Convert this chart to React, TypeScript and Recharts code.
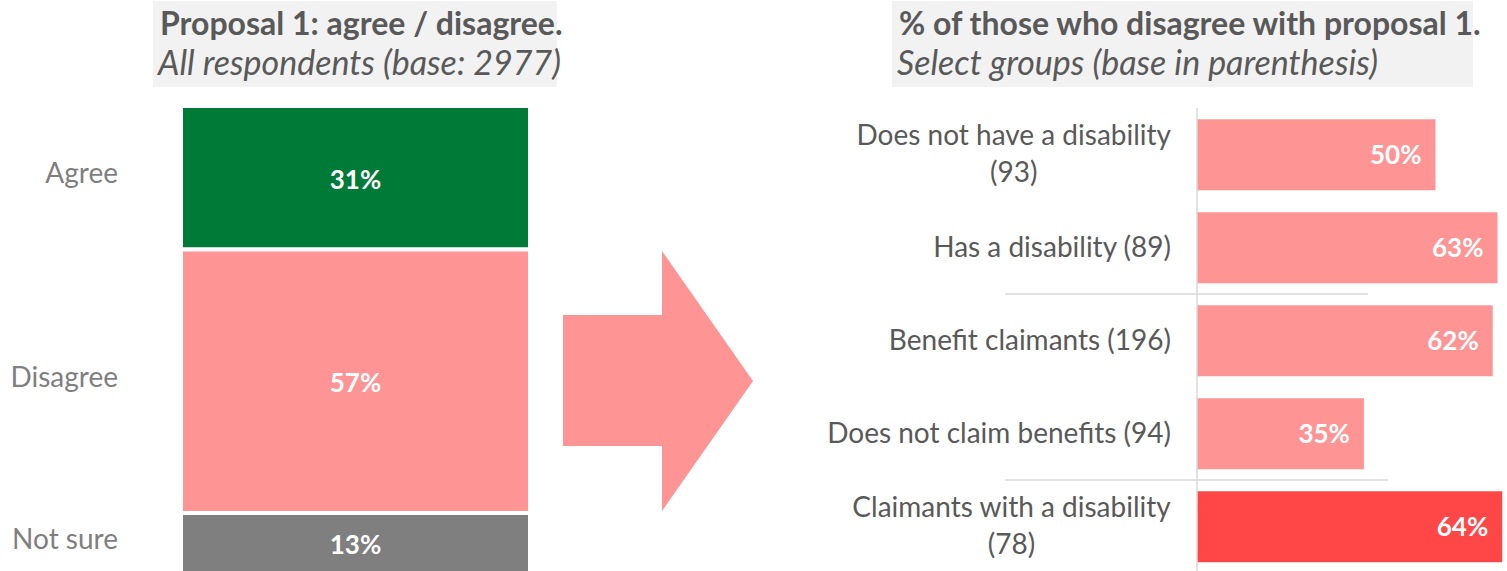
import { BarChart, Bar, XAxis, YAxis, LabelList, Cell } from 'recharts';

// Left panel: all respondents
const overallKeys = ['agree', 'disagree', 'notSure'];
const overallLabels = ['Agree', 'Disagree', 'Not sure'];
const overallValues = [31, 57, 13];
const overallColors = ['#007A37', '#FF9494', '#7F7F7F'];

// Right panel: share who disagree, by group
const groupLabels = [
  'Does not have a disability (93)',
  'Has a disability (89)',
  'Benefit claimants (196)',
  'Does not claim benefits (94)',
  'Claimants with a disability (78)',
];
const groupValues = [50, 63, 62, 35, 64];
const groupColors = ['#FF9494', '#FF9494', '#FF9494', '#FF9494', '#FF4747'];
// separator lines drawn under these rows
const groupBreaks = [1, 3];

const FONT = 'Lato, "Open Sans", sans-serif';
const LABEL_SIZE = 28;
const VALUE_SIZE = 26;
const RIGHT_TOP = 108;
const RIGHT_PLOT_H = 465;
const BAND = RIGHT_PLOT_H / groupLabels.length;

const overallRow: Record<string, number | string> = { name: 'All respondents' };
overallKeys.forEach((k, i) => {
  overallRow[k] = overallValues[i];
});
const overallData = [overallRow];

const groupData = groupLabels.map((name, i) => ({ name, value: groupValues[i] }));

let measureCtx: CanvasRenderingContext2D | null = null;
function textWidth(s: string, font: string) {
  if (!measureCtx) measureCtx = document.createElement('canvas').getContext('2d');
  if (!measureCtx) return s.length * 12;
  measureCtx.font = font;
  return measureCtx.measureText(s).width;
}

/** Long labels break before the base count and are centred as a block. */
function wrapLabel(s: string) {
  if (s.length <= 29) return [s];
  const cut = s.lastIndexOf(' ');
  return [s.slice(0, cut), s.slice(cut + 1)];
}

function GroupTick(props: any) {
  const { x, y, payload } = props;
  const idx = groupLabels.indexOf(payload.value);
  const lines = wrapLabel(payload.value);
  let textEl;
  if (lines.length === 1) {
    textEl = (
      <text x={x} y={y} dy="0.35em" textAnchor="end" fill="#595959" fontSize={LABEL_SIZE} fontFamily={FONT}>
        {lines[0]}
      </text>
    );
  } else {
    const w = textWidth(lines[0], `${LABEL_SIZE}px Lato`);
    const cx = x - w / 2;
    textEl = (
      <text textAnchor="middle" fill="#595959" fontSize={LABEL_SIZE} fontFamily={FONT}>
        <tspan x={cx} y={y - 19} dy="0.35em">{lines[0]}</tspan>
        <tspan x={cx} y={y + 18} dy="0.35em">{lines[1]}</tspan>
      </text>
    );
  }
  const brk = groupBreaks.indexOf(idx);
  return (
    <g>
      {textEl}
      {brk >= 0 && (
        <line
          x1={205}
          x2={brk === 0 ? 568 : 588}
          y1={y + BAND / 2}
          y2={y + BAND / 2}
          stroke="#D9D9D9"
          strokeWidth={1.5}
        />
      )}
    </g>
  );
}

function TitleBox(props: { x: number; width: number; title: string; subtitle: string }) {
  const { x, width, title, subtitle } = props;
  return (
    <svg
      width={width + 20}
      height={90}
      style={{ position: 'absolute', left: x, top: 0, overflow: 'visible' }}
    >
      <rect x={0} y={1} width={width} height={86} fill="#F2F2F2" />
      <text x={7} y={35} fill="#595959" fontSize={32} fontWeight={700} fontFamily={FONT}>
        {title}
      </text>
      <text x={5} y={75} fill="#595959" fontSize={34} fontStyle="italic" fontFamily={FONT}>
        {subtitle}
      </text>
    </svg>
  );
}

export default function App() {
  // stack from the bottom up so "Agree" sits on top
  const stackOrder = [2, 1, 0];
  return (
    <div
      style={{
        position: 'absolute',
        left: 0,
        top: 0,
        width: 1507,
        height: 571,
        overflow: 'hidden',
        background: '#fff',
        fontFamily: FONT,
      }}
    >
      <TitleBox x={153} width={404} title="Proposal 1: agree / disagree." subtitle="All respondents (base: 2977)" />
      <TitleBox
        x={892}
        width={581}
        title="% of those who disagree with proposal 1."
        subtitle="Select groups (base in parenthesis)"
      />

      <div style={{ position: 'absolute', left: 0, top: 0 }}>
        <BarChart
          width={560}
          height={575}
          data={overallData}
          margin={{ top: 106, right: 30, bottom: 2, left: 181 }}
          barCategoryGap={0}
        >
          <XAxis dataKey="name" type="category" hide />
          <YAxis type="number" domain={[0, 101]} hide />
          {stackOrder.map((i) => (
            <Bar
              key={overallKeys[i]}
              dataKey={overallKeys[i]}
              stackId="all"
              fill={overallColors[i]}
              stroke="#fff"
              strokeWidth={4}
              isAnimationActive={false}
            >
              <LabelList
                dataKey={overallKeys[i]}
                content={(p: any) => (
                  <text
                    x={Number(p.x) + Number(p.width) / 2}
                    y={Number(p.y) + Number(p.height) / 2 + 2}
                    dy="0.35em"
                    textAnchor="middle"
                    fill="#fff"
                    fontSize={VALUE_SIZE}
                    fontWeight={700}
                    fontFamily={FONT}
                  >
                    {`${p.value}%`}
                  </text>
                )}
              />
              <LabelList
                dataKey={overallKeys[i]}
                content={(p: any) => (
                  <text
                    x={Number(p.x) - 63}
                    y={Number(p.y) + Number(p.height) / 2 - 4}
                    dy="0.35em"
                    textAnchor="end"
                    fill="#7F7F7F"
                    fontSize={LABEL_SIZE}
                    fontFamily={FONT}
                  >
                    {overallLabels[i]}
                  </text>
                )}
              />
            </Bar>
          ))}
        </BarChart>
      </div>

      <svg
        width={200}
        height={300}
        style={{ position: 'absolute', left: 560, top: 240 }}
        viewBox="560 240 200 300"
      >
        <polygon points="563,315 662,315 662,251 753,381 662,511 662,446 563,446" fill="#FF9494" />
      </svg>

      <div style={{ position: 'absolute', left: 800, top: 0 }}>
        <BarChart
          width={707}
          height={RIGHT_TOP + RIGHT_PLOT_H}
          data={groupData}
          layout="vertical"
          margin={{ top: RIGHT_TOP, right: 0, bottom: 0, left: 0 }}
          barCategoryGap="12%"
        >
          <XAxis type="number" domain={[0, 65]} hide />
          <YAxis
            type="category"
            dataKey="name"
            width={397}
            axisLine={{ stroke: '#D9D9D9', strokeWidth: 1.5 }}
            tickLine={false}
            tickSize={0}
            tickMargin={26}
            interval={0}
            tick={<GroupTick />}
          />
          <Bar dataKey="value" isAnimationActive={false}>
            {groupData.map((d, i) => (
              <Cell key={d.name} fill={groupColors[i]} />
            ))}
            <LabelList
              dataKey="value"
              position="insideRight"
              offset={14}
              formatter={(v: any) => `${v}%`}
              fill="#fff"
              fontSize={VALUE_SIZE}
              fontWeight={700}
              fontFamily={FONT}
            />
          </Bar>
        </BarChart>
      </div>
    </div>
  );
}
